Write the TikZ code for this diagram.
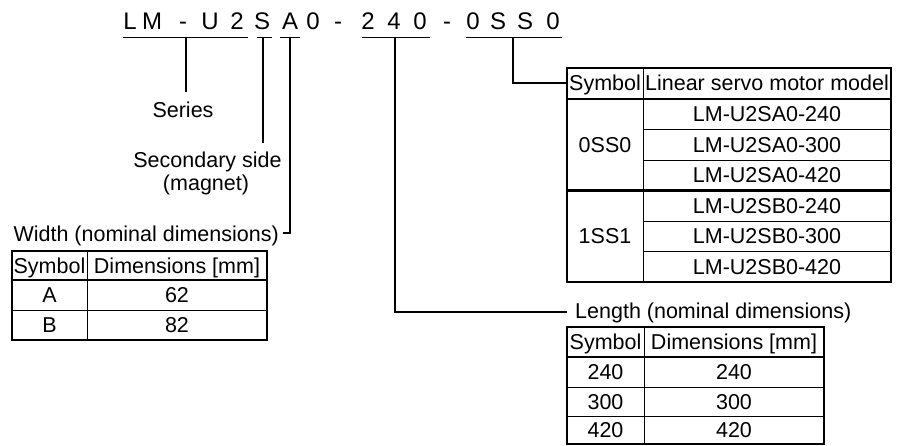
\documentclass[tikz,border=0pt]{standalone}
\usepackage{fontspec}
\setmainfont{Liberation Sans}
\begin{document}
\begin{tikzpicture}[x=1pt,y=-1pt,
  txt/.style={inner sep=0pt, anchor=base, font=\fontsize{21.5}{24}\selectfont},
  ttl/.style={inner sep=0pt, anchor=base, font=\fontsize{24}{28}\selectfont},
  frame/.style={line width=2.6pt},
  rule/.style={line width=0.9pt},
  conn/.style={line width=1.1pt},
  uline/.style={line width=1.1pt}]
\useasboundingbox (0,0) rectangle (901,446);

% ---- title characters
\foreach \c/\x/\n in {L/130/c1, M/152/c2, -/183/c3, U/210/c4, 2/237/c5, S/262/c6, A/290/c7, 0/313/c8, -/338/c9, 2/368/c10, 4/394/c11, 0/420/c12, -/447/c13, 0/473/c14, S/498/c15, S/525/c16, 0/553/c17}
  \node[ttl] (\n) at (\x,30) {\c};

% ---- underlines
\draw[uline] (123,37.5) -- (248,37.5);
\draw[uline] (257,37.5) -- (272,37.5);
\draw[uline] (280,37.5) -- (300,37.5);
\draw[uline] (362,37.5) -- (430,37.5);
\draw[uline] (466,37.5) -- (562,37.5);

% ---- labels
\node[txt] (series) at (183,118) {Series};
\node[txt] (second1) at (207.5,168) {Secondary side};
\node[txt] (second2) at (206,191) {(magnet)};
\node[txt, anchor=base east] (width) at (279,241) {Width (nominal dimensions)};
\node[txt, anchor=base west] (length) at (575,318) {Length (nominal dimensions)};

% ---- connector coordinates
\coordinate (sA) at (186,37.5);  \coordinate (eA) at (186,92);
\coordinate (sB) at (263,37.5);  \coordinate (eB) at (263,143);
\coordinate (sC) at (290,37.5);  \coordinate (kC) at (290,233); \coordinate (eC) at (283,233);
\coordinate (sD) at (395,37.5);  \coordinate (kD) at (395,312); \coordinate (eD) at (567,312);
\coordinate (sE) at (513,37.5);  \coordinate (kE) at (513,83);  \coordinate (eE) at (567,83);

\draw[conn] (sA) -- (eA);
\draw[conn] (sB) -- (eB);
\draw[conn] (sC) -- (kC) -- (eC);
\draw[conn] (sD) -- (kD) -- (eD);
\draw[conn] (sE) -- (kE) -- (eE);

% ---- top-right table (models)
\draw[rule] (643,68) -- (643,282);
\foreach \y in {129.5,160,221,251.5} \draw[rule] (643,\y) -- (891,\y);
\draw[frame] (567,99) -- (891,99);
\draw[frame] (567,190.5) -- (891,190.5);
\draw[frame] (567,68) rectangle (891,282);
\node[txt] (mh1) at (605,91) {Symbol};
\node[txt] (mh2) at (767,91) {Linear servo motor model};
\node[txt] (ms1) at (605,152.25) {0SS0};
\node[txt] (ms2) at (605,243.75) {1SS1};
\node[txt] (m1) at (767,121.75) {LM-U2SA0-240};
\node[txt] (m2) at (767,152.25) {LM-U2SA0-300};
\node[txt] (m3) at (767,182.75) {LM-U2SA0-420};
\node[txt] (m4) at (767,213.25) {LM-U2SB0-240};
\node[txt] (m5) at (767,243.75) {LM-U2SB0-300};
\node[txt] (m6) at (767,274.25) {LM-U2SB0-420};

% ---- left table (width)
\draw[rule] (87,251) -- (87,340);
\draw[rule] (12,310) -- (267,310);
\draw[frame] (12,280) -- (267,280);
\draw[frame] (12,251) rectangle (267,340);
\node[txt] (wh1) at (49.5,273) {Symbol};
\node[txt] (wh2) at (177,273) {Dimensions [mm]};
\node[txt] (ws1) at (49.5,302.5) {A};
\node[txt] (wd1) at (177,302.5) {62};
\node[txt] (ws2) at (49.5,332.5) {B};
\node[txt] (wd2) at (177,332.5) {82};

% ---- bottom-right table (length)
\draw[rule] (644,327) -- (644,444);
\draw[rule] (567,387) -- (824,387);
\draw[rule] (567,416) -- (824,416);
\draw[frame] (567,357) -- (824,357);
\draw[frame] (567,327) rectangle (824,444);
\node[txt] (lh1) at (605.5,349.5) {Symbol};
\node[txt] (lh2) at (734,349.5) {Dimensions [mm]};
\node[txt] (ls1) at (605.5,379.5) {240};
\node[txt] (ld1) at (734,379.5) {240};
\node[txt] (ls2) at (605.5,409) {300};
\node[txt] (ld2) at (734,409) {300};
\node[txt] (ls3) at (605.5,437.5) {420};
\node[txt] (ld3) at (734,437.5) {420};
\end{tikzpicture}
\end{document}
